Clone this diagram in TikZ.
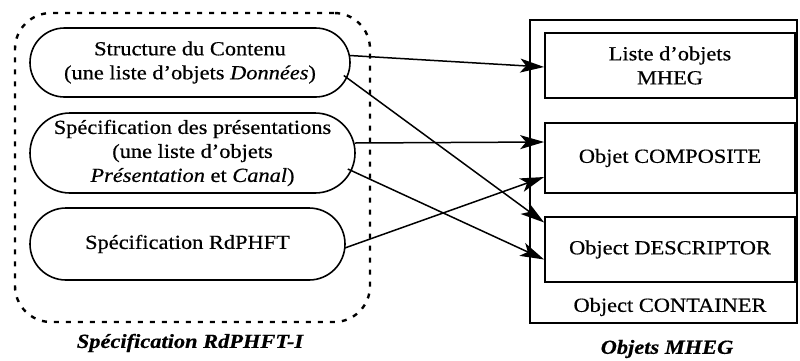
\documentclass[tikz,border=0pt]{standalone}
\usepackage{fontspec}
\setmainfont{Liberation Serif}[FakeStretch=1.12,FakeBold=0.5]
\usetikzlibrary{arrows.meta,calc,shapes.misc}
\begin{document}
\begin{tikzpicture}[x=1pt,y=-1pt,
  font=\fontsize{20}{24}\selectfont,
  spec/.style={draw, line width=1.6pt, rounded rectangle, align=center, inner sep=0pt},
  mbox/.style={draw, line width=1.7pt, align=center, inner sep=0pt},
  conn/.style={line width=1.5pt, -{Stealth[length=24pt,width=14pt,inset=6pt]}},
  title/.style={font=\fontsize{20}{24}\selectfont\bfseries\itshape}]
\useasboundingbox (0,0) rectangle (800,360);
% dashed group
\node[draw, line width=2.4pt, dash pattern=on 5pt off 7pt, rounded corners=36pt,
      minimum width=355pt, minimum height=309pt, inner sep=0pt] (grp) at (192.5,167.5) {};
% container
\node[draw, line width=2.2pt, minimum width=267pt, minimum height=303pt, inner sep=0pt] (cont) at (663.5,171.5) {};
% left nodes
\node[spec, minimum width=320pt, minimum height=69pt] (n1) at (190,62.5)
  {Structure du Contenu\\(une liste d’objets \textit{Données})};
\node[spec, minimum width=325pt, minimum height=80pt] (n2) at (192.5,153)
  {Spécification des présentations\\(une liste d’objets\\\textit{Présentation} et \textit{Canal})};
\node[spec, minimum width=315pt, minimum height=72pt] (n3) at (187.5,244)
  {Spécification RdPHFT};
% right boxes
\node[mbox, minimum width=250pt, minimum height=65pt] (b1) at (670,65.5)
  {Liste d’objets\\MHEG};
\node[mbox, minimum width=250pt, minimum height=70pt] (b2) at (670,158)
  {Objet COMPOSITE};
\node[mbox, minimum width=250pt, minimum height=65pt] (b3) at (670,249.5)
  {Object DESCRIPTOR};
\node (ctext) at (670,307) {Object CONTAINER};
% titles
\node[title] (t1) at (190,343) {Spécification RdPHFT-I};
\node[title] (t2) at (667,349) {Objets MHEG};
% connectors
\draw[conn] ($(n1.east)+(-1,-7)$) -- ($(b1.west)+(0,1.5)$);
\draw[conn] ($(n1.east)+(-7,13)$) -- ($(b3.west)+(0,-27)$);
\draw[conn] ($(n2.east)+(-1,-10)$) -- ($(b2.west)+(0,-16)$);
\draw[conn] ($(n2.east)+(-8,16)$) -- ($(b3.west)+(0,10)$);
\draw[conn] ($(n3.east)+(-1,4)$) -- ($(b2.west)+(0,19)$);
\end{tikzpicture}
\end{document}
